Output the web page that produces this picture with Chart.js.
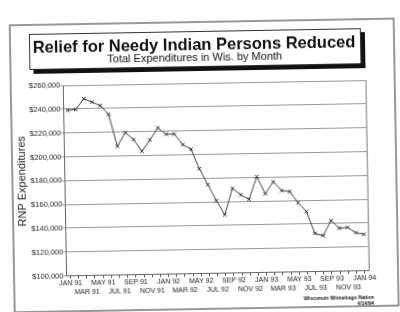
<!DOCTYPE html>
<html>
<head>
<meta charset="utf-8">
<script src="https://cdn.jsdelivr.net/npm/chart.js@4"></script>
<style>
  html, body { margin: 0; padding: 0; background: #fff; overflow: hidden; }
  #wrap { width: 400px; height: 312px; position: relative; }
  #chart_here { transform: rotate(-1deg); transform-origin: 200px 156px; }
</style>
</head>
<body>
<div id="wrap"><canvas id="chart_here" width="400" height="312"></canvas></div>
<script>
'use strict';
// relief for needy indian persons - monthly totals, jan 91 to jan 94

var monthLabels = ['JAN 91', 'FEB 91', 'MAR 91', 'APR 91', 'MAY 91', 'JUN 91', 'JUL 91', 'AUG 91', 'SEP 91', 'OCT 91', 'NOV 91', 'DEC 91',
  'JAN 92', 'FEB 92', 'MAR 92', 'APR 92', 'MAY 92', 'JUN 92', 'JUL 92', 'AUG 92', 'SEP 92', 'OCT 92', 'NOV 92', 'DEC 92',
  'JAN 93', 'FEB 93', 'MAR 93', 'APR 93', 'MAY 93', 'JUN 93', 'JUL 93', 'AUG 93', 'SEP 93', 'OCT 93', 'NOV 93', 'DEC 93',
  'JAN 94'];
var rnpExpenditures = [239000, 239500, 248500, 245500, 242500, 235000, 208000, 219500, 213500, 203500, 213000, 223000,
  217500, 217500, 208500, 204500, 188000, 174500, 161000, 149000, 171000, 165500, 161500, 180500,
  166000, 176000, 168500, 167500, 158000, 150500, 132000, 130000, 142500, 136000, 136500, 132000,
  130500];
var yTicks = [100000, 120000, 140000, 160000, 180000, 200000, 220000, 240000, 260000];

var chartTitle = 'Relief for Needy Indian Persons Reduced';
var chartSubtitle = 'Total Expenditures in Wis. by Month';
var sourceLines = ['Wisconsin Winnebago Nation', '4/14/94'];

var fontFam = '"Liberation Sans", Arial, Helvetica, sans-serif';

// page border, title box with shadow, plot frame, source note
var decorPlugin = {
  id: 'decor',
  beforeDraw: function(chart) {
    var ctx = chart.ctx;
    ctx.save();
    ctx.fillStyle = '#fff';
    ctx.fillRect(0, 0, chart.width, chart.height);
    // outer page border
    ctx.strokeStyle = '#777';
    ctx.lineWidth = 1.5;
    ctx.strokeRect(12, 22, 384, 287);
    // title box shadow
    ctx.fillStyle = '#111';
    ctx.fillRect(363, 35, 4, 36);
    ctx.fillRect(35, 66, 332, 5);
    // title box
    ctx.strokeStyle = '#333';
    ctx.lineWidth = 1;
    ctx.strokeRect(31.5, 31.5, 331, 35);
    ctx.restore();
  },
  afterDraw: function(chart) {
    var ctx = chart.ctx;
    var area = chart.chartArea;
    ctx.save();
    ctx.strokeStyle = '#777';
    ctx.lineWidth = 1;
    ctx.beginPath();
    ctx.moveTo(area.right + 0.5, area.top);
    ctx.lineTo(area.right + 0.5, area.bottom);
    ctx.stroke();

    ctx.fillStyle = '#111';
    ctx.textAlign = 'center';
    ctx.textBaseline = 'alphabetic';
    ctx.font = 'bold 16.5px ' + fontFam;
    ctx.fillText(chartTitle, 196, 50);
    ctx.font = '11px ' + fontFam;
    ctx.fillText(chartSubtitle, 196.5, 60.5);

    ctx.textAlign = 'right';
    ctx.font = 'bold 5px ' + fontFam;
    ctx.fillText(sourceLines[0], 371.5, 302);
    ctx.fillText(sourceLines[1], 371.5, 308);
    ctx.restore();
  }
};

function xTickLabel(value, index) {
  var lab = monthLabels[index];
  if (index % 4 === 0) {
    return [lab, ''];
  }
  if (index % 4 === 2) {
    return ['', lab];
  }
  return '';
}

function yTickLabel(value) {
  return '$' + value.toLocaleString('en-US');
}

var ctx = document.getElementById('chart_here').getContext('2d');
var rnpChart = new Chart(ctx, {
  type: 'line',
  data: {
    labels: monthLabels,
    datasets: [{
      label: 'RNP Expenditures',
      data: rnpExpenditures,
      borderColor: '#444',
      borderWidth: 1,
      tension: 0,
      fill: false,
      pointStyle: 'crossRot',
      pointRadius: 2.5,
      pointBorderColor: '#333',
      pointBorderWidth: 1
    }]
  },
  options: {
    responsive: false,
    animation: false,
    devicePixelRatio: 1,
    layout: {
      padding: { left: 12, top: 83, right: 33.3, bottom: 0 }
    },
    plugins: {
      legend: { display: false },
      tooltip: { enabled: false },
      title: { display: false }
    },
    scales: {
      x: {
        type: 'category',
        offset: true,
        afterFit: function(scale) { scale.height = 38.5; },
        grid: {
          display: true,
          drawOnChartArea: false,
          drawTicks: true,
          tickLength: 3,
          offset: false,
          color: '#555'
        },
        border: { display: true, color: '#666', width: 1 },
        ticks: {
          autoSkip: false,
          maxRotation: 0,
          minRotation: 0,
          padding: 0,
          color: '#222',
          font: { family: fontFam, size: 7, lineHeight: 1.26 },
          callback: xTickLabel
        }
      },
      y: {
        min: yTicks[0],
        max: yTicks[yTicks.length - 1],
        afterFit: function(scale) { scale.width = 52.4; },
        afterBuildTicks: function(scale) {
          scale.ticks = yTicks.map(function(v) { return { value: v }; });
        },
        grid: {
          color: '#999',
          lineWidth: 1,
          drawTicks: true,
          tickLength: 3
        },
        border: { display: true, color: '#666', width: 1 },
        ticks: {
          padding: 0,
          color: '#222',
          font: { family: fontFam, size: 7.5 },
          callback: yTickLabel
        },
        title: {
          display: true,
          text: 'RNP Expenditures',
          color: '#222',
          font: { family: fontFam, size: 11 },
          padding: { top: 3, bottom: 0 }
        }
      }
    }
  },
  plugins: [decorPlugin]
});
</script>
</body>
</html>
